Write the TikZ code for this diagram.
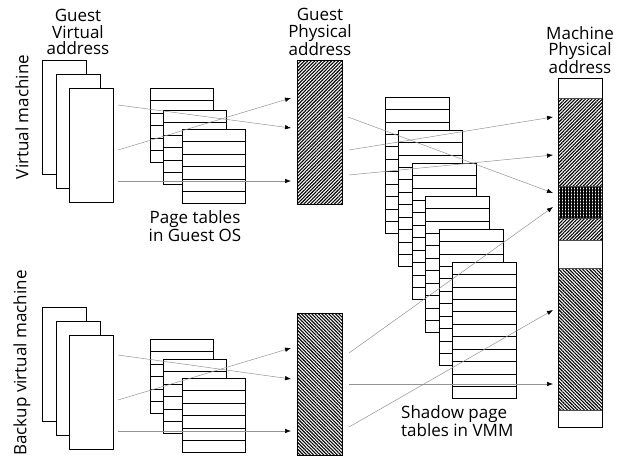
\documentclass[tikz,border=0pt]{standalone}
\usepackage{fontspec}
\setmainfont{Open Sans}
\usetikzlibrary{calc, arrows.meta, patterns.meta, positioning}
\tikzset{>=latex}
\newcommand\drawrows[2]{%
  \foreach \r in {1,...,#2}
    \draw[line width=0.6pt] ($(#1.north west)!{\r/(#2+1)}!(#1.south west)$) -- ($(#1.north east)!{\r/(#2+1)}!(#1.south east)$);}

\begin{document}
\begin{tikzpicture}[x=1pt,y=-1pt,
    every node/.style={font=\fontsize{17}{16.5}\selectfont},
    box/.style={draw,fill=white,line width=0.8pt,inner sep=0pt,anchor=north west},
    page/.style={box,minimum width=44pt,minimum height=114pt},
    gtable/.style={box,minimum width=63pt,minimum height=74pt},
    stable/.style={box,minimum width=64pt,minimum height=136pt},
    ne/.style={pattern={Lines[angle=45,distance=2.4pt,line width=1.1pt]}},
    nw/.style={pattern={Lines[angle=-45,distance=2.4pt,line width=1.1pt]}},
    seg/.style={draw=black!70,line width=0.5pt,inner sep=0pt,anchor=north west,minimum width=44pt},
    link/.style={draw=gray!85,line width=0.5pt,-{Latex[length=6pt,width=4.5pt,color=black]}},
    lbl/.style={align=center,inner sep=0pt}]
  \useasboundingbox (0,0) rectangle (622,457);

  % guest virtual pages
  \foreach \n/\x/\y in {1/42/60, 2/56/74, 3/69/88} {
    \node[page] (vp\n) at (\x,\y) {};
    \node[page] (bp\n) at (\x,\y+247) {};
  }

  % page tables in guest OS
  \foreach \n/\x/\y/\yb in {1/150/88/339, 2/163/110/359, 3/182/129/378} {
    \node[gtable] (gt\n) at (\x,\y) {};
    \drawrows{gt\n}{5}
    \node[gtable] (bt\n) at (\x,\yb) {};
    \drawrows{bt\n}{5}
  }

  % shadow page tables
  \foreach \i in {1,...,6} {
    \node[stable] (st\i) at ({385+13.4*(\i-1)},{97+33*(\i-1)}) {};
    \drawrows{st\i}{10}
  }

  % guest physical memory
  \node[box,ne,minimum width=45pt,minimum height=144pt] (gp1) at (297,60) {};
  \node[box,nw,minimum width=45pt,minimum height=142pt] (gp2) at (297,313) {};

  % machine physical memory
  \node[seg,minimum height=20pt] (mw1) at (558,78) {};
  \node[seg,ne,minimum height=88pt] (mh1) at (558,98) {};
  \node[seg,pattern={Hatch[distance=3pt,line width=1.15pt]},minimum height=32pt] (mc) at (558,186) {};
  \node[seg,ne,minimum height=22pt] (mh2) at (558,218) {};
  \node[seg,minimum height=28pt] (mw2) at (558,240) {};
  \node[seg,nw,minimum height=142pt] (mh3) at (558,268) {};
  \node[seg,minimum height=17pt] (mw3) at (558,410) {};
  \node[box,fill=none,minimum width=44pt,minimum height=349pt] (mp) at (558,78) {};

  % mappings
  \foreach \a/\b/\c/\d in {118/105/291/128, 118/150/291/98, 118/181/291/181,
                           118/355/291/379, 118/400/291/348, 118/431/291/431,
                           348/117/553/193, 349/150/553/117, 349/175/553/155,
                           349/353/553/207, 349/427/553/310, 349/384/553/384} {
    \coordinate (s) at (\a,\b);
    \coordinate (e) at (\c,\d);
    \draw[link] (s) -- (e);
  }

  % labels
  \node[lbl] (gvlbl) at (78,32) {Guest\\Virtual\\address};
  \node[lbl] (gplbl) at (320,32) {Guest\\Physical\\address};
  \node[lbl] (mplbl) at (580,50) {Machine\\Physical\\address};
  \node[lbl] (ptlbl) at (195,226) {Page tables\\in Guest OS};
  \node[lbl,align=left,anchor=west] (stlbl) at (401,421) {Shadow page\\tables in VMM};
  \node[lbl,rotate=90] (vmlbl) at (22,117) {Virtual machine};
  \node[lbl,rotate=90] (bvmlbl) at (22,363) {Backup virtual machine};
\end{tikzpicture}
\end{document}
